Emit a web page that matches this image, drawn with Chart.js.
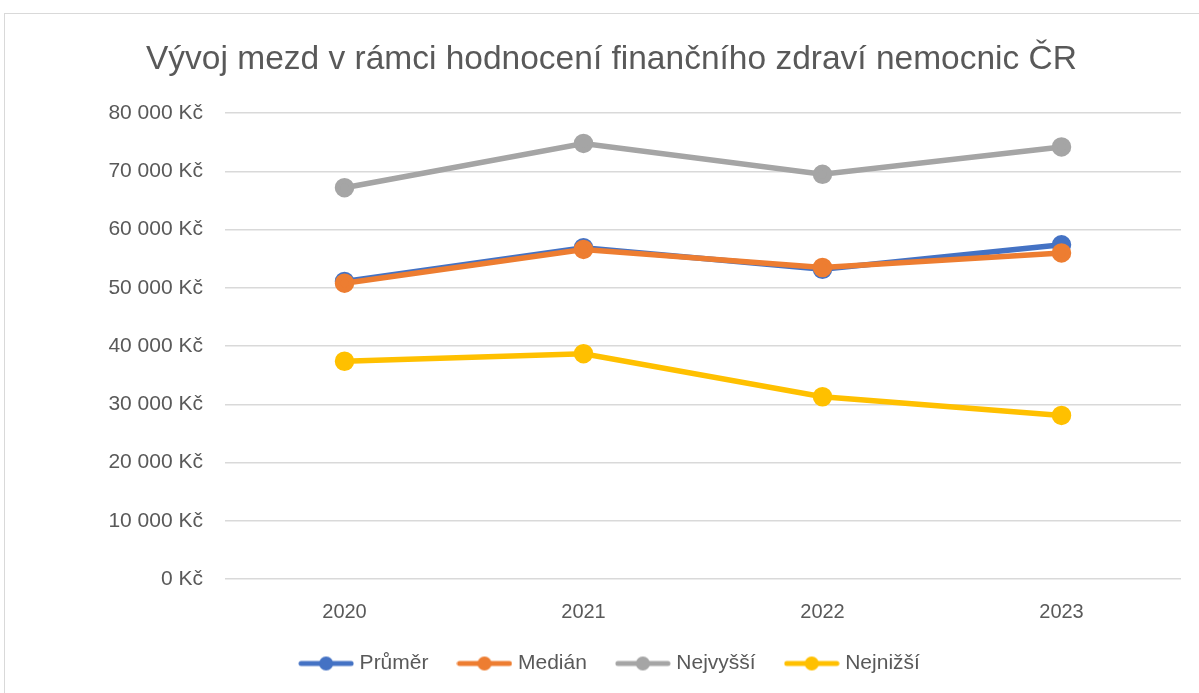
<!DOCTYPE html>
<html lang="cs">
<head>
<meta charset="utf-8">
<script src="https://cdn.jsdelivr.net/npm/chart.js@4.4.1/dist/chart.umd.min.js"></script>
<style>
    html, body { margin: 0; padding: 0; background: #fff; }
    #wrap { position: absolute; left: 0; top: 0; width: 1199px; height: 693px; }
    #ramecek { position: absolute; left: 4px; top: 13px; width: 1200px; height: 700px; border: 1px solid #d9d9d9; box-sizing: border-box; }
</style>
</head>
<body>
<div id="ramecek"></div>
<div id="wrap"><canvas id="mzdyChart" width="1199" height="693"></canvas></div>
<script>
/* Vývoj mezd */

const roky = ['2020', '2021', '2022', '2023'];
const prumer = [51100, 56900, 53200, 57400];
const median = [50800, 56600, 53500, 56000];
const nejvyssi = [67200, 74800, 69500, 74200];
const nejnizsi = [37400, 38700, 31300, 28100];
const yTicky = [0, 10000, 20000, 30000, 40000, 50000, 60000, 70000, 80000];

const barvy = {
    prumer: '#4472c4',
    median: '#ed7d31',
    nejvyssi: '#a5a5a5',
    nejnizsi: '#ffc000'
};

const textBarva = '#595959';
const pismo = "'Liberation Sans', Arial, sans-serif";

// Značka do legendy: čára s kolečkem
function znackaLegendy(barva) {
    const c = document.createElement('canvas');
    c.width = 56;
    c.height = 16;
    const ctx = c.getContext('2d');
    ctx.strokeStyle = barva;
    ctx.lineWidth = 5;
    ctx.lineCap = 'round';
    ctx.beginPath();
    ctx.moveTo(3, 8);
    ctx.lineTo(53, 8);
    ctx.stroke();
    ctx.fillStyle = barva;
    ctx.beginPath();
    ctx.arc(28, 8, 7, 0, Math.PI * 2);
    ctx.fill();
    return c;
}

function formatKc(v) {
    return String(v).replace(/\B(?=(\d{3})+(?!\d))/g, ' ') + ' Kč';
}

function serie(label, data, barva, poradi) {
    return {
        label: label,
        data: data,
        borderColor: barva,
        backgroundColor: barva,
        borderWidth: 5.5,
        pointRadius: 7,
        pointHoverRadius: 7,
        pointBackgroundColor: barva,
        pointBorderColor: barva,
        pointStyle: 'circle',
        legendImg: znackaLegendy(barva),
        order: poradi,
        tension: 0
    };
}

// vyšší order = kreslí se dřív (pod ostatními)
const datasety = [
    serie('Průměr', prumer, barvy.prumer, 4),
    serie('Medián', median, barvy.median, 3),
    serie('Nejvyšší', nejvyssi, barvy.nejvyssi, 2),
    serie('Nejnižší', nejnizsi, barvy.nejnizsi, 1)
];

new Chart(document.getElementById('mzdyChart'), {
    type: 'line',
    data: { labels: roky, datasets: datasety },
    options: {
        responsive: false,
        animation: false,
        layout: { padding: { left: 24, right: 0, top: 0, bottom: 9 } },
        plugins: {
            title: {
                display: true,
                text: 'Vývoj mezd v rámci hodnocení finančního zdraví nemocnic ČR',
                color: textBarva,
                font: { family: pismo, size: 33.5, weight: 'normal' },
                padding: { top: 40, bottom: 33 }
            },
            legend: {
                position: 'bottom',
                labels: {
                    color: textBarva,
                    font: { family: pismo, size: 21 },
                    usePointStyle: true,
                    pointStyleWidth: 46,
                    padding: 33,
                    generateLabels: chart => chart.data.datasets.map((d, i) => ({
                        text: d.label,
                        fontColor: textBarva,
                        pointStyle: d.legendImg,
                        strokeStyle: d.borderColor,
                        fillStyle: d.borderColor,
                        lineWidth: 0,
                        hidden: false,
                        datasetIndex: i
                    }))
                }
            },
            tooltip: { enabled: false }
        },
        scales: {
            x: {
                offset: true,
                afterFit: scale => { scale.height = 41; },
                grid: { display: false, drawTicks: false },
                border: { display: false },
                ticks: {
                    color: textBarva,
                    font: { family: pismo, size: 20 },
                    padding: 21
                }
            },
            y: {
                min: 0,
                max: 80000,
                afterBuildTicks: scale => { scale.ticks = yTicky.map(v => ({ value: v })); },
                afterFit: scale => { scale.width = 201; },
                grid: { color: '#d9d9d9', lineWidth: 1.5, drawTicks: false },
                border: { display: false },
                ticks: {
                    color: textBarva,
                    font: { family: pismo, size: 21 },
                    padding: 22,
                    callback: v => formatKc(v)
                }
            },
            // prázdná pravá osa jen kvůli okraji vpravo
            okraj: {
                position: 'right',
                afterFit: scale => { scale.width = 18; },
                grid: { display: false, drawTicks: false },
                border: { display: false },
                ticks: { display: false }
            }
        }
    }
});
</script>
</body>
</html>
